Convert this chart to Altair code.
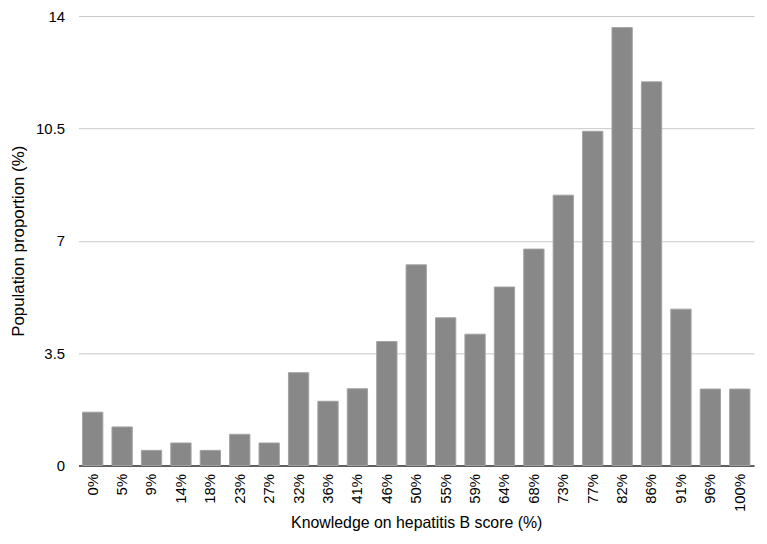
import altair as alt
import pandas as pd

categories = ["0%", "5%", "9%", "14%", "18%", "23%", "27%", "32%", "36%", "41%", "46%",
              "50%", "55%", "59%", "64%", "68%", "73%", "77%", "82%", "86%", "91%", "96%", "100%"]
values = [1.66, 1.20, 0.47, 0.70, 0.47, 0.97, 0.70, 2.89, 2.00, 2.39, 3.86,
          6.25, 4.60, 4.09, 5.56, 6.74, 8.42, 10.41, 13.64, 11.95, 4.87, 2.38, 2.38]
y_ticks = [0, 3.5, 7, 10.5, 14]

df = pd.DataFrame({"score": categories, "prop": values})

FONT = "Liberation Sans"

chart = alt.Chart(df).mark_bar(color="#888888", stroke="#a2a2a2", strokeWidth=1).encode(
    x=alt.X("score:N", sort=categories,
            scale=alt.Scale(paddingInner=0.31, paddingOuter=0.14),
            axis=alt.Axis(title="Knowledge on hepatitis B score (%)", labelAngle=-90,
                          labelFontSize=15, labelFont=FONT, labelColor="#000",
                          labelPadding=8, labelAlign="right", labelBaseline="middle",
                          ticks=False, domainColor="#333333", domainWidth=1.5,
                          titleFont=FONT, titleFontSize=16, titleFontWeight="normal",
                          titleColor="#000", titlePadding=3, grid=False)),
    y=alt.Y("prop:Q", scale=alt.Scale(domain=[0, 14], nice=False),
            axis=alt.Axis(title="Population proportion (%)", values=y_ticks,
                          labelExpr="datum.value + ''",
                          labelFontSize=15, labelFont=FONT, labelColor="#000",
                          labelPadding=14, ticks=False, domain=False,
                          gridColor="#c8c8c8", gridWidth=1,
                          titleFont=FONT, titleFontSize=17, titleFontWeight="normal",
                          titleColor="#000", titlePadding=8)),
).properties(
    width=681, height=453,
    autosize=alt.AutoSizeParams(type="none"),
    padding={"left": 71, "top": 6, "right": 5, "bottom": 70},
).configure_view(stroke=None)

chart.save("out.html", embed_options={"renderer": "svg", "actions": False})
